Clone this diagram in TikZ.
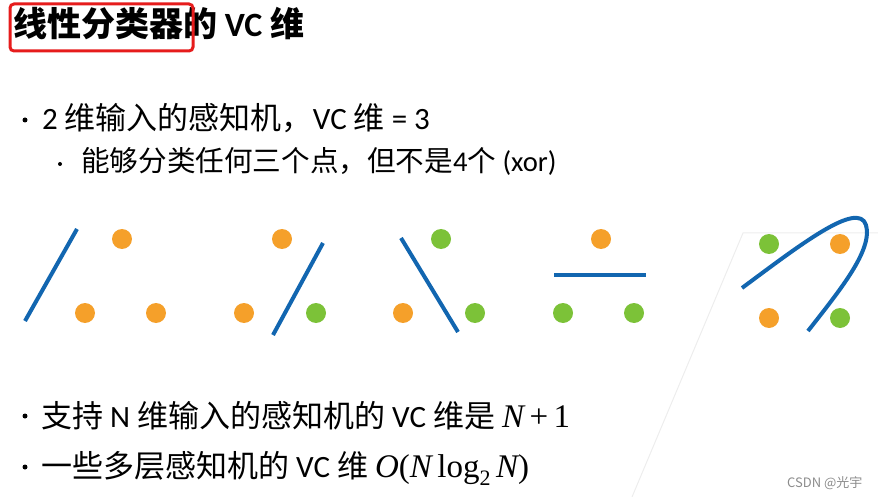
\documentclass[tikz,border=0pt]{standalone}
\usepackage{fontspec}
\setmainfont{Carlito}
\newfontfamily\cjk{Noto Sans CJK SC}
\newfontfamily\tms{Liberation Serif}

\begin{document}
\begin{tikzpicture}[x=1pt,y=-1pt,
    txt/.style={anchor=base west,inner sep=0pt,font=\fontsize{31}{36}\selectfont},
    subtxt/.style={anchor=base west,inner sep=0pt,font=\fontsize{28.6}{32}\selectfont},
    bullet/.style={circle,fill=black,inner sep=0pt,minimum size=5pt},
    subbullet/.style={circle,fill=black,inner sep=0pt,minimum size=4pt},
    sep/.style={color=kBlue,line width=4pt}]
  \definecolor{kBlue}{RGB}{18,102,176}
  \definecolor{kOrange}{RGB}{245,160,42}
  \definecolor{kGreen}{RGB}{124,194,56}
  \definecolor{kRed}{RGB}{230,28,28}

  \useasboundingbox (0,0) rectangle (878,497);

  % background sheet
  \draw[color=black!7,line width=1pt] (632,497) -- (743,233) -- (878,233);

  % title
  \node[anchor=base west,inner sep=0pt,font=\fontsize{34}{40}\selectfont\bfseries]
    (title) at (13,37) {{\cjk 线性分类器的} VC {\cjk 维}};
  \draw[color=kRed,line width=3pt,rounded corners=4pt] (10,4) rectangle (193,51);

  % bullets
  \node[bullet] (b1) at (25,120) {};
  \node[txt] (t1) at (42,130) {2 {\cjk 维输入的感知机，}VC {\cjk 维} = 3};
  \node[subbullet] (b2) at (60,164) {};
  \node[subtxt] (t2) at (81,172) {{\cjk 能够分类任何三个点，但不是}4{\cjk 个} (xor)};
  \node[bullet] (b3) at (25,416) {};
  \node[txt] (t3) at (41,427) {{\cjk 支持} N {\cjk 维输入的感知机的} VC {\cjk 维是}
    {\tms\fontsize{33}{36}\selectfont\itshape N\,\upshape +\,1}};
  \node[bullet] (b4) at (25,467) {};
  \node[txt] (t4) at (41,477) {{\cjk 一些多层感知机的} VC {\cjk 维}
    {\tms\fontsize{33}{36}\selectfont\itshape O\upshape(\itshape N\,\upshape log\raisebox{-0.25em}{\fontsize{22}{22}\selectfont 2}\,\itshape N\upshape)}};

  % points
  \foreach \x/\y/\c in {
      122/239/kOrange, 85/313/kOrange, 156/313/kOrange,
      282/239/kOrange, 244/313/kOrange, 316/313/kGreen,
      441/239/kGreen, 403/313/kOrange, 475/313/kGreen,
      601/239/kOrange, 563/313/kGreen, 634/313/kGreen,
      769/244/kGreen, 840/244/kOrange, 769/318/kOrange, 840/318/kGreen}
  {
    \fill[color=\c] (\x,\y) circle (10pt);
  }

  % separating lines
  \draw[sep] (25,321) -- (77,229);
  \draw[sep] (273,335) -- (323,243);
  \draw[sep] (401,238) -- (458,332);
  \draw[sep] (554,275) -- (646,275);
  \draw[sep] (742,288) .. controls (800,245) and (858,200) .. (866,225)
                       .. controls (873,250) and (840,290) .. (808,331);

  % watermark
  \node[anchor=base west,inner sep=0pt,text=black!45,font=\fontsize{13}{15}\selectfont]
    (mark) at (787,487) {{\cjk CSDN @光宇}};
\end{tikzpicture}
\end{document}
